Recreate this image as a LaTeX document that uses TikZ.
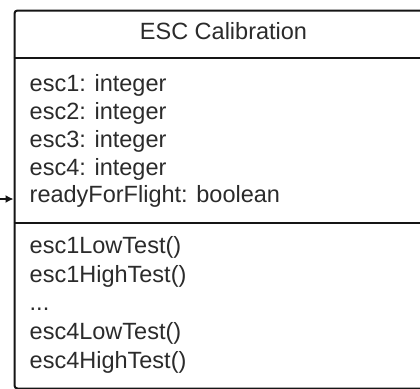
\documentclass[tikz,border=0pt]{standalone}
\usepackage{fontspec}
\setmainfont{Liberation Sans}
\usetikzlibrary{arrows.meta}
\definecolor{ink}{HTML}{151515}
\definecolor{txt}{HTML}{2B2B2B}
\tikzset{
  classline/.style={draw=ink, line width=2pt},
  member/.style={anchor=base west, inner sep=0pt, text=txt,
    font=\fontsize{23.5}{27.8}\selectfont},
  classtitle/.style={anchor=base, inner sep=0pt, text=txt,
    font=\fontsize{23.5}{27.8}\selectfont},
  link/.style={draw=ink, line width=1.4pt, -{Latex[length=8pt,width=8pt]}},
}
\begin{document}
\begin{tikzpicture}[x=1pt,y=-1pt]
\useasboundingbox (0,0) rectangle (420,388);
\clip (0,0) rectangle (420,388);

% class box
\node[classline, rounded corners=3pt, fill=white, inner sep=0pt,
      minimum width=420pt, minimum height=378pt, anchor=north west]
      (cls) at (13.5,9.5) {};

% compartment separators
\coordinate (d1) at (0,57.8);
\coordinate (d2) at (0,223.3);
\draw[classline] (cls.west |- d1) -- (cls.east |- d1);
\draw[classline] (cls.west |- d2) -- (cls.east |- d2);

% class name
\node[classtitle] (title) at (223.5,39) {ESC Calibration};

% attributes
\node[member] (a1) at (29.5,91.7)  {esc1: integer};
\node[member] (a2) at (29.5,119.5) {esc2: integer};
\node[member] (a3) at (29.5,147.3) {esc3: integer};
\node[member] (a4) at (29.5,175.1) {esc4: integer};
\node[member] (a5) at (29.5,202.9) {readyForFlight: boolean};

% operations
\node[member] (m1) at (29.5,253.3) {esc1LowTest()};
\node[member] (m2) at (29.5,282.0) {esc1HighTest()};
\node[member] (m3) at (29.5,310.7) {...};
\node[member] (m4) at (29.5,339.4) {esc4LowTest()};
\node[member] (m5) at (29.5,368.1) {esc4HighTest()};

% incoming association
\coordinate (src) at (0,199);
\draw[link] (src) -- (src -| cls.west);
\end{tikzpicture}
\end{document}
